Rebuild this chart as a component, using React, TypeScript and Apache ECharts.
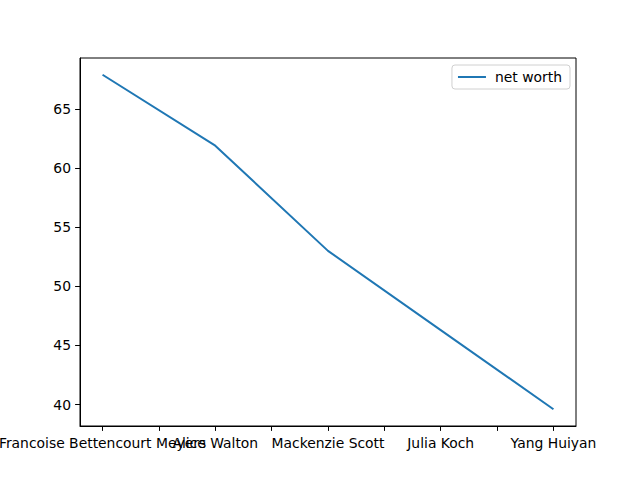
import React, { useEffect, useRef } from "react";
import * as echarts from "echarts";

const names = [
  "Francoise Bettencourt Meyers",
  "Alice Walton",
  "Mackenzie Scott",
  "Julia Koch",
  "Yang Huiyan",
];
const netWorth = [67.9, 61.9, 53.0, 46.3, 39.6];
const yTicks = [40, 45, 50, 55, 60, 65];
// x positions are 1-based
const xTicks = [1, 1.5, 2, 2.5, 3, 3.5, 4, 4.5, 5];
const xLabelPos = [1, 2, 3, 4, 5];

const FONT = "DejaVu Sans";

const App = () => {
  const chartRef = useRef<HTMLDivElement>(null);

  useEffect(() => {
    const dom = chartRef.current;
    if (!dom) return;
    const chart = echarts.init(dom, null, { renderer: "svg" });

    // matplotlib style 5% margins
    const lo = Math.min(...netWorth);
    const hi = Math.max(...netWorth);
    const pad = (hi - lo) * 0.05;
    const xPad = (names.length - 1) * 0.05;

    const axisText = { color: "#000", fontSize: 13.9, fontFamily: FONT };
    const nameOf = (v: number) => names[Math.round(v) - 1] ?? "";

    // labels overlap, echarts hides them -> split odd/even over two axes
    const oddPos = xLabelPos.filter((_, i) => i % 2 === 0);
    const evenPos = xLabelPos.filter((_, i) => i % 2 === 1);

    const baseX = {
      type: "value",
      position: "bottom",
      min: 1 - xPad,
      max: names.length + xPad,
      splitLine: { show: false },
    };

    chart.setOption({
      animation: false,
      backgroundColor: "#fff",
      textStyle: { fontFamily: FONT },
      grid: {
        left: 80,
        right: 64,
        top: 58,
        bottom: 54,
        show: true,
        borderColor: "#000",
        borderWidth: 1,
        outerBoundsMode: "none",
      },
      legend: {
        show: true,
        right: 70,
        top: 65,
        orient: "vertical",
        padding: [5, 8, 5, 6],
        borderColor: "#d0d0d0",
        borderWidth: 1,
        borderRadius: 3,
        itemWidth: 28,
        itemHeight: 2,
        icon: "rect",
        textStyle: { ...axisText, padding: [0, 0, 0, 4] },
        data: ["net worth"],
      },
      xAxis: [
        {
          ...baseX,
          axisLine: { show: true, onZero: false, lineStyle: { color: "#000", width: 1 } },
          axisTick: {
            show: true,
            length: 4.9,
            customValues: xTicks,
            lineStyle: { color: "#000", width: 1 },
          },
          axisLabel: {
            ...axisText,
            margin: 10,
            customValues: oddPos,
            showMinLabel: true,
            showMaxLabel: true,
            formatter: nameOf,
          },
        },
        {
          ...baseX,
          offset: 0,
          axisLine: { show: false, onZero: false },
          axisTick: { show: false },
          axisLabel: {
            ...axisText,
            margin: 10,
            customValues: evenPos,
            formatter: nameOf,
          },
        },
      ],
      yAxis: {
        type: "value",
        min: lo - pad,
        max: hi + pad,
        splitLine: { show: false },
        axisLine: { show: true, onZero: false, lineStyle: { color: "#000", width: 1 } },
        axisTick: {
          show: true,
          length: 4.9,
          customValues: yTicks,
          lineStyle: { color: "#000", width: 1 },
        },
        axisLabel: {
          ...axisText,
          margin: 9,
          customValues: yTicks,
        },
      },
      series: [
        {
          name: "net worth",
          type: "line",
          xAxisIndex: 0,
          data: netWorth.map((v, i) => [i + 1, v]),
          showSymbol: false,
          symbol: "none",
          color: "#1f77b4",
          lineStyle: { color: "#1f77b4", width: 2 },
        },
      ],
    });

    return () => {
      chart.dispose();
    };
  }, []);

  return (
    <div
      ref={chartRef}
      style={{ position: "fixed", left: 0, top: 0, width: 640, height: 480, background: "#fff" }}
    ></div>
  );
};

export default App;
